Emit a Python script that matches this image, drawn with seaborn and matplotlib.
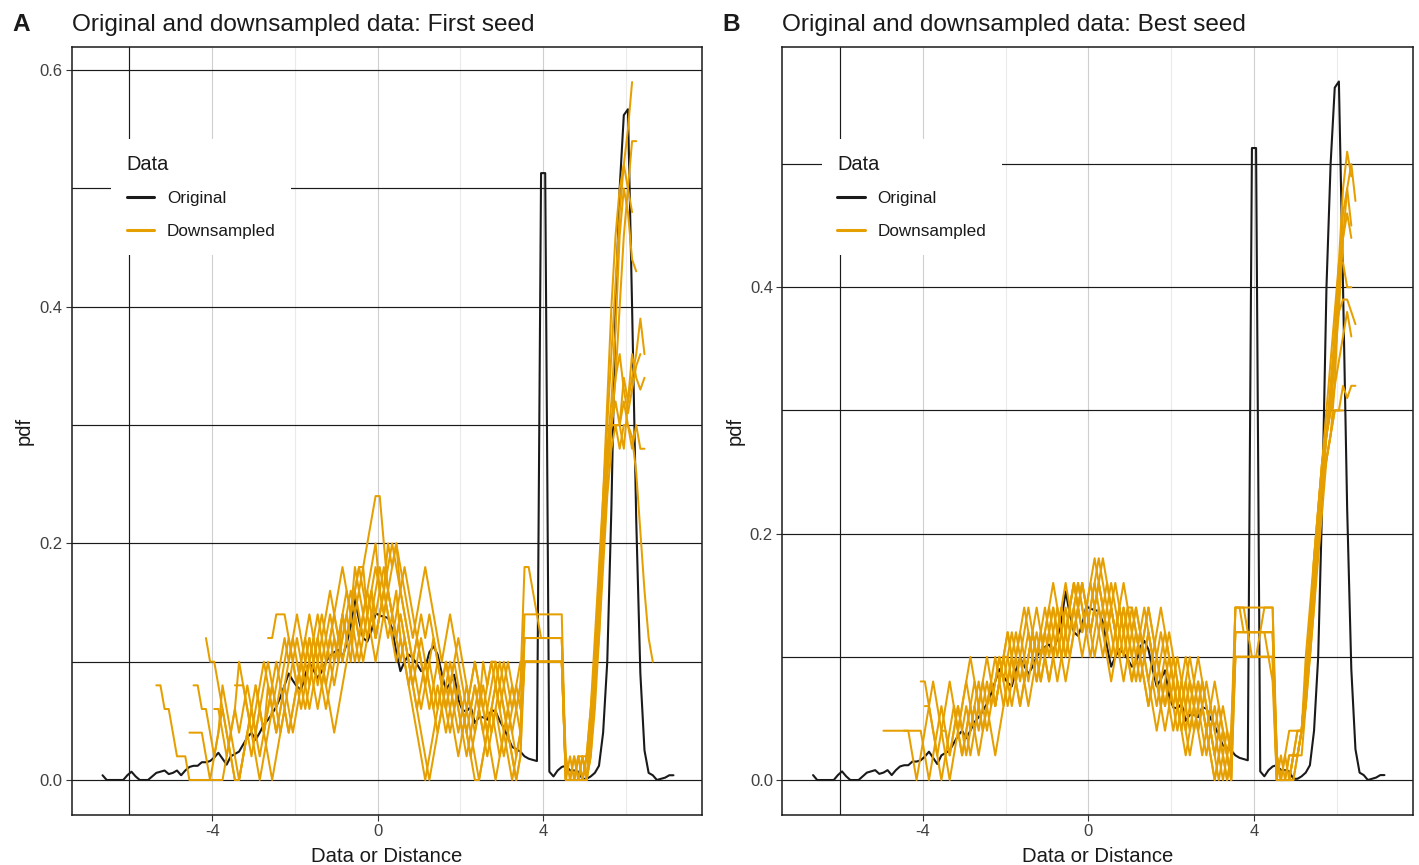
import numpy as np
import pandas as pd
import matplotlib
matplotlib.use("Agg")
import matplotlib.pyplot as plt
import seaborn as sns
from matplotlib.lines import Line2D

N = np.nan
STEP = 0.1

# ---------------- Original density (shared by both panels) ----------------
ORIG_X0 = -6.65
original = [
    0.004, 0, 0, 0, 0, 0, 0.004, 0.007, 0.003, 0,                       # -6.65
    0, 0, 0.003, 0.006, 0.007, 0.008, 0.005, 0.006, 0.008, 0.004,       # -5.65
    0.008, 0.011, 0.012, 0.012, 0.015, 0.015, 0.016, 0.019, 0.023, 0.018,  # -4.65
    0.013, 0.020, 0.022, 0.024, 0.030, 0.036, 0.040, 0.034, 0.040, 0.047,  # -3.65
    0.051, 0.056, 0.062, 0.070, 0.080, 0.090, 0.084, 0.079, 0.076, 0.089,  # -2.65
    0.099, 0.093, 0.086, 0.092, 0.100, 0.105, 0.108, 0.110, 0.104, 0.115,  # -1.65
    0.130, 0.153, 0.135, 0.120, 0.117, 0.126, 0.141, 0.139, 0.138, 0.137,  # -0.65
    0.128, 0.108, 0.092, 0.100, 0.106, 0.103, 0.098, 0.092, 0.095, 0.108,  # 0.35
    0.113, 0.106, 0.090, 0.076, 0.082, 0.089, 0.068, 0.059, 0.058, 0.062,  # 1.35
    0.048, 0.053, 0.053, 0.051, 0.059, 0.058, 0.050, 0.044, 0.036, 0.028,  # 2.35
    0.026, 0.024, 0.020, 0.018, 0.017, 0.016, 0.513, 0.513, 0.007, 0.003,  # 3.35
    0.008, 0.011, 0.012, 0.008, 0.008, 0.007, 0.001, 0.001, 0.003, 0.006,  # 4.35
    0.012, 0.040, 0.100, 0.230, 0.400, 0.500, 0.562, 0.567, 0.400, 0.220,  # 5.35
    0.090, 0.025, 0.006, 0.004, 0, 0.001, 0.002, 0.004, 0.004,             # 6.35
]

# ---------------- Panel A: downsampled, first seed (x starts at -5.35) ----------------
A_X0 = -5.35
a1 = [.08,.08,.06,.06,.04,.02,.02,.02,0,0,
      0,0,0,0,0,0,0,.02,.04,.06,
      .04,.06,.08,.06,.04,.06,.08,.1,.08,.06,
      .08,.1,.12,.1,.08,.06,.08,.1,.12,.1,
      .08,.1,.12,.14,.12,.14,.16,.14,.18,.16,
      .14,.16,.18,.2,.16,.14,.12,.14,.12,.1,
      .12,.1,.08,.1,.12,.1,.08,.06,.08,.06,
      .04,.06,.08,.06,.04,.02,.04,.06,.08,.06,
      .04,.02,0,.02,.04,.06,.04,.02,.04,.1,
      .1,.1,.1,.1,.1,.1,.1,.1,.1,0,
      0,0,0,0,.02,.06,.12,.18,.24,.3,
      .36,.42,.48,.52,.55,.59]
a2 = [N,N,N,N,N,N,N,N,.04,.04,
      .04,.04,.02,0,.02,.04,.08,.06,.04,.02,
      0,.02,.04,.02,.04,.06,.04,.08,.06,.04,
      .06,.08,.06,.04,.06,.08,.1,.12,.1,.12,
      .1,.08,.1,.12,.1,.14,.12,.1,.14,.16,
      .18,.14,.16,.12,.14,.16,.2,.18,.2,.16,
      .14,.12,.1,.12,.1,.08,.06,.08,.1,.08,
      .1,.08,.06,.08,.06,.04,.06,.08,.06,.1,
      .08,.1,.1,.08,.1,.08,.06,.08,.06,.12,
      .12,.12,.12,.12,.12,.12,.12,.12,.12,0,
      0,0,.02,0,0,.04,.1,.16,.22,.28,
      .32,.38,.46,.5,.48,.44,.43]
a3 = [N,N,N,N,N,N,N,N,N,.08,
      .08,.06,.06,.04,.02,.04,.06,.04,.02,0,
      0,.02,.04,.06,.04,.02,.04,.06,.08,.06,
      .04,.06,.08,.1,.12,.1,.08,.06,.08,.1,
      .08,.06,.08,.1,.12,.1,.12,.14,.12,.1,
      .12,.14,.16,.14,.16,.18,.16,.14,.16,.12,
      .1,.08,.1,.12,.14,.12,.14,.12,.1,.08,
      .06,.08,.1,.08,.06,.08,.06,.04,.06,.08,
      .06,.04,.06,.08,.06,.04,.06,.08,.1,.1,
      .1,.1,.1,.1,.1,.1,.1,.1,.1,0,
      .02,0,0,.02,.02,.06,.1,.14,.2,.26,
      .3,.3,.3,.28,.32,.34,.36,.39,.36]
a4 = [N,N,N,N,N,N,N,N,N,N,
      N,N,.12,.1,.1,.08,.06,.04,.02,0,
      0,.02,.04,.06,.08,.06,.04,.02,0,.02,
      .04,.06,.04,.06,.08,.1,.08,.1,.12,.14,
      .12,.1,.12,.14,.16,.18,.16,.14,.16,.18,
      .18,.2,.22,.24,.24,.2,.16,.14,.12,.14,
      .12,.1,.08,.06,.08,.1,.08,.06,.04,.06,
      .08,.06,.04,.02,.04,.06,.04,.02,0,.02,
      .04,.06,.08,.06,.04,.02,0,.02,.04,.14,
      .14,.14,.14,.14,.14,.14,.14,.14,.14,0,
      0,.02,0,0,0,.04,.08,.14,.2,.26,
      .3,.34,.4,.46,.5,.54,.54]
a5 = [N,N,N,N,N,N,N,N,N,N,
      N,N,N,N,N,N,N,N,N,.08,
      .08,.08,.06,.04,.06,.08,.1,.08,.06,.04,
      .06,.08,.1,.12,.1,.08,.1,.12,.1,.08,
      .1,.12,.14,.12,.1,.12,.14,.16,.14,.12,
      .14,.16,.14,.12,.14,.16,.18,.2,.18,.16,
      .14,.12,.1,.08,.06,.08,.1,.08,.06,.08,
      .1,.08,.06,.04,.06,.04,.02,.04,.06,.04,
      .02,.04,.06,.04,.02,.04,.02,0,.02,.12,
      .12,.12,.12,.12,.12,.12,.12,.12,.12,0,
      0,0,0,.02,0,.02,.08,.14,.22,.28,
      .3,.32,.3,.34,.32,.36,.34,.33,.34]
a6 = [N,N,N,N,N,N,N,N,N,N,
      N,N,N,N,N,N,N,N,N,N,
      N,N,N,N,N,N,N,.12,.12,.14,
      .14,.14,.12,.1,.08,.1,.12,.1,.08,.06,
      .08,.1,.12,.1,.12,.14,.12,.14,.16,.14,
      .12,.14,.16,.18,.16,.14,.16,.18,.2,.18,
      .16,.14,.12,.14,.16,.18,.16,.14,.12,.1,
      .12,.14,.12,.1,.08,.06,.08,.1,.08,.06,
      .08,.1,.08,.06,.08,.1,.08,.06,.08,.1,
      .1,.1,.1,.1,.1,.1,.1,.1,.1,.02,
      0,0,.02,0,.02,.04,.08,.12,.18,.24,
      .28,.3,.28,.3,.3,.28,.3,.28,.28]
a7 = [N,N,N,N,N,N,N,N,N,N,
      N,N,N,N,.06,.06,.04,.02,.04,.06,
      .1,.08,.06,.04,.02,0,.02,.04,.06,.08,
      .1,.12,.1,.12,.14,.12,.1,.08,.1,.12,
      .14,.12,.1,.08,.1,.12,.14,.12,.1,.12,
      .14,.12,.14,.16,.18,.16,.14,.12,.1,.12,
      .1,.08,.06,.04,.02,0,.02,.04,.06,.08,
      .06,.08,.1,.12,.1,.08,.06,.08,.06,.04,
      .06,.08,.1,.08,.06,.04,.02,0,.02,.1,
      .1,.1,.1,.1,.1,.1,.1,.1,.1,0,
      0,0,0,0,.02,.04,.1,.16,.22,.27,
      .3,.34,.36,.33,.31,.33,.35,.36]
a8 = [N,N,N,N,N,N,N,N,N,N,
      N,N,N,N,N,N,N,N,N,N,
      N,N,N,N,N,N,N,N,N,N,
      N,N,N,N,.1,.08,.06,.08,.1,.12,
      .1,.08,.06,.04,.06,.08,.1,.12,.14,.12,
      .1,.12,.14,.12,.14,.16,.14,.12,.14,.16,
      .18,.16,.14,.12,.1,.08,.1,.12,.1,.08,
      .06,.04,.06,.08,.06,.04,.02,0,0,.02,
      .04,.06,.04,.02,.04,.06,.08,.06,.04,.1,
      .1,.1,.1,.1,.1,.1,.1,.1,.1,0,
      0,.02,0,0,0,.02,.06,.12,.2,.26,
      .3,.3,.3,.32,.3,.29,.26,.21,.16,.12,.1]
a9 = [N,N,N,N,N,N,N,N,N,N,
      N,N,N,N,N,N,N,N,N,N,
      N,N,N,N,.08,.06,.04,.06,.08,.1,
      .08,.06,.04,.06,.08,.1,.12,.14,.12,.1,
      .12,.14,.16,.14,.12,.1,.12,.14,.16,.18,
      .16,.14,.12,.1,.12,.14,.16,.14,.12,.14,
      .12,.1,.08,.06,.04,.02,0,.02,.04,.06,
      .08,.1,.08,.06,.04,.06,.08,.1,.08,.06,
      .04,.06,.08,.1,.08,.06,.04,.06,.08,.18,
      .18,.16,.14,.12,.12,.12,.12,.12,.12,0,
      0,0,.02,.02,0,.04,.1,.16,.24,.32,
      .4,.46,.5,.52,.5,.48]

# ---------------- Panel B: downsampled, best seed (x starts at -4.95) ----------------
B_X0 = -4.95
b1 = [.04,.04,.04,.04,.04,.04,.04,.04,.04,.04,
      .02,0,.02,.04,.06,.04,.02,.04,.06,.04,
      .06,.04,.06,.08,.06,.04,.06,.08,.1,.08,
      .06,.08,.1,.12,.1,.08,.1,.12,.1,.12,
      .14,.12,.1,.12,.14,.12,.14,.16,.14,.12,
      .14,.16,.18,.16,.14,.12,.1,.12,.14,.12,
      .1,.08,.1,.12,.14,.12,.1,.08,.06,.08,
      .06,.04,.06,.08,.06,.04,.06,.08,.06,.04,
      .02,.04,.02,0,.02,.14,.14,.14,.12,.12,
      .12,.12,.12,.12,.12,.02,0,0,0,.02,
      .04,.04,.08,.12,.18,.22,.26,.28,.3,.36,
      .42,.48,.51,.49]
b2 = [N,N,N,N,N,.04,.04,.02,0,.02,
      .04,.06,.08,.06,.04,.02,0,.02,.04,.02,
      .04,.06,.04,.02,.04,.06,.08,.06,.08,.1,
      .08,.1,.12,.1,.08,.06,.08,.1,.12,.14,
      .12,.1,.08,.1,.12,.14,.16,.14,.12,.14,
      .12,.14,.12,.1,.12,.14,.12,.14,.16,.14,
      .14,.12,.1,.08,.06,.08,.1,.12,.1,.08,
      .06,.08,.06,.04,.02,.04,.06,.08,.06,.04,
      .06,.04,.02,.04,.02,.12,.12,.12,.12,.12,
      .12,.12,.12,.1,.08,0,0,.02,0,.02,
      .02,.04,.06,.12,.16,.2,.24,.26,.28,.32,
      .4,.46,.48,.45]
b3 = [N,N,N,N,N,N,N,N,N,.08,
      .08,.06,.04,.02,0,.02,.04,.06,.04,.02,
      .04,.06,.08,.06,.04,.06,.08,.1,.08,.06,
      .08,.1,.08,.06,.08,.1,.12,.1,.12,.1,
      .12,.14,.12,.1,.12,.14,.16,.14,.16,.14,
      .12,.1,.12,.14,.16,.14,.12,.1,.08,.1,
      .12,.14,.12,.1,.08,.1,.12,.14,.12,.1,
      .08,.06,.04,.06,.08,.06,.04,.06,.08,.06,
      .04,.02,.04,.02,0,.14,.14,.14,.14,.14,
      .14,.14,.14,.14,.14,.02,0,0,0,0,
      .02,.04,.1,.14,.18,.22,.26,.3,.34,.38,
      .42,.42,.4,.4]
b4 = [N,N,N,N,N,N,N,N,N,N,
      .06,.06,.04,.02,.04,.06,.08,.06,.04,.06,
      .08,.06,.04,.06,.08,.06,.04,.02,.04,.06,
      .08,.06,.08,.1,.08,.1,.12,.14,.12,.1,
      .08,.1,.12,.14,.12,.1,.12,.14,.12,.14,
      .16,.14,.16,.14,.12,.14,.12,.1,.12,.14,
      .12,.1,.08,.1,.12,.1,.08,.06,.08,.1,
      .08,.06,.08,.1,.08,.06,.04,.06,.04,.02,
      0,.02,.04,.02,.04,.12,.12,.12,.12,.1,
      .1,.12,.12,.12,.12,0,0,0,.02,.02,
      .02,.04,.08,.12,.16,.2,.24,.28,.32,.36,
      .38,.39,.39,.38,.37]
b5 = [N,N,N,N,N,N,N,N,N,N,
      N,N,N,N,.04,.04,.02,.04,.06,.04,
      .02,.04,.06,.04,.06,.08,.06,.08,.1,.08,
      .1,.12,.1,.08,.1,.12,.1,.08,.1,.12,
      .1,.12,.14,.12,.1,.12,.14,.12,.1,.12,
      .14,.16,.14,.12,.14,.16,.14,.12,.1,.12,
      .1,.12,.1,.08,.06,.08,.06,.08,.1,.12,
      .1,.08,.06,.04,.06,.08,.1,.08,.06,.04,
      .02,0,.02,0,.02,.1,.1,.1,.1,.1,
      .1,.1,.1,.1,.1,0,.02,0,0,.02,
      .04,.04,.08,.1,.14,.18,.22,.26,.28,.3,
      .3,.32,.31,.32,.32]
b6 = [N,N,N,N,N,N,N,N,N,N,
      N,N,N,N,N,N,N,.06,.04,.06,
      .08,.1,.08,.06,.04,.06,.08,.06,.08,.1,
      .12,.1,.08,.1,.12,.14,.12,.1,.12,.1,
      .08,.1,.12,.14,.16,.14,.12,.14,.16,.14,
      .12,.14,.16,.18,.16,.14,.12,.14,.12,.1,
      .08,.1,.12,.1,.08,.06,.04,.06,.08,.06,
      .04,.06,.08,.06,.08,.06,.04,.02,.04,.06,
      .04,.06,.04,.02,0,.1,.1,.1,.1,.1,
      .1,.1,.1,.1,.1,.02,0,0,0,0,
      .02,.02,.06,.1,.16,.2,.24,.26,.28,.3,
      .3,.3]
b7 = [N,N,N,N,N,N,N,N,N,N,
      N,N,N,N,N,N,N,N,N,N,
      .04,.02,.04,.06,.08,.1,.08,.06,.08,.1,
      .12,.1,.08,.06,.08,.1,.12,.1,.08,.1,
      .12,.1,.12,.14,.12,.14,.16,.14,.12,.14,
      .16,.18,.16,.14,.12,.14,.16,.14,.12,.14,
      .12,.14,.12,.1,.12,.1,.08,.1,.12,.1,
      .08,.06,.04,.02,.04,.06,.08,.06,.04,.06,
      .08,.06,.04,.02,.04,.14,.14,.12,.12,.12,
      .12,.12,.14,.14,.14,0,0,.02,.04,.04,
      .04,.04,.06,.1,.14,.2,.24,.28,.3,.34,
      .38,.44,.48,.5,.47]
b8 = [N,N,N,N,N,N,N,N,N,N,
      N,N,N,N,N,N,N,N,N,N,
      N,N,N,N,N,N,N,.06,.08,.1,
      .1,.08,.1,.12,.14,.12,.1,.08,.1,.12,
      .14,.16,.14,.12,.1,.12,.14,.16,.14,.12,
      .1,.12,.14,.12,.1,.08,.1,.12,.14,.12,
      .14,.12,.1,.12,.14,.12,.1,.08,.06,.08,
      .1,.08,.06,.08,.1,.08,.06,.04,.02,.04,
      .02,.04,.06,.04,.02,.12,.12,.12,.12,.12,
      .12,.12,.12,.12,.12,.02,0,0,.02,.02,
      .02,.04,.08,.12,.18,.22,.26,.28,.3,.32,
      .34,.36,.38,.36]
b9 = [N,N,N,N,N,N,N,N,N,N,
      N,N,N,N,N,N,N,N,N,N,
      N,N,N,N,N,N,N,N,N,N,
      N,N,N,N,.08,.1,.12,.1,.08,.1,
      .12,.14,.12,.1,.08,.1,.12,.14,.16,.14,
      .12,.14,.16,.14,.12,.1,.12,.14,.12,.1,
      .08,.1,.12,.14,.12,.1,.08,.06,.04,.06,
      .08,.1,.08,.06,.04,.06,.08,.06,.04,.02,
      0,.02,0,.02,0,.1,.1,.1,.1,.1,
      .1,.1,.1,.1,.1,0,0,0,0,.02,
      .02,.04,.08,.12,.16,.2,.24,.28,.32,.36,
      .4,.44,.46,.44]

panel_titles = ["Original and downsampled data: First seed",
                "Original and downsampled data: Best seed"]
panel_tags = ["A", "B"]
legend_labels = ["Original", "Downsampled"]
x_label = "Data or Distance"
y_label = "pdf"

ORANGE = "#E69F00"
BLACK = "#1a1a1a"


def to_frame(vals, x0, name):
    v = np.asarray(vals, dtype=float)
    x = x0 + STEP * np.arange(len(v))
    d = pd.DataFrame({"x": np.round(x, 3), "pdf": v, "line": name})
    return d.dropna()


orig_df = to_frame(original, ORIG_X0, "orig")
A_df = pd.concat([to_frame(v, A_X0, f"a{i}") for i, v in
                  enumerate([a1, a2, a3, a4, a5, a6, a7, a8, a9])])
B_df = pd.concat([to_frame(v, B_X0, f"b{i}") for i, v in
                  enumerate([b1, b2, b3, b4, b5, b6, b7, b8, b9])])

sns.set_style("white")
plt.rcParams["font.family"] = ["Liberation Sans", "DejaVu Sans"]
plt.rcParams["axes.unicode_minus"] = False

W, H = 1419, 865
fig = plt.figure(figsize=(W / 100, H / 100), dpi=100)


def px_axes(l, t, r, b):
    return fig.add_axes([l / W, 1 - b / H, (r - l) / W, (b - t) / H])


axA = px_axes(71.5, 47, 702, 815)
axB = px_axes(782, 47, 1413, 815)

ylims = [(-0.0296, 0.6196), (-0.0284, 0.5950)]
yticks = [[0, 0.2, 0.4, 0.6], [0, 0.2, 0.4]]
for k, (ax, ddf) in enumerate([(axA, A_df), (axB, B_df)]):
    sns.lineplot(data=orig_df, x="x", y="pdf", color=BLACK, lw=1.5,
                 estimator=None, sort=False, ax=ax, legend=False, zorder=3)
    sns.lineplot(data=ddf, x="x", y="pdf", units="line", color=ORANGE, lw=1.45,
                 estimator=None, sort=False, ax=ax, legend=False, zorder=4)
    ax.set_xlim(-7.40, 7.84)
    ax.set_ylim(*ylims[k])
    ax.set_xticks([-4, 0, 4])
    ax.set_xticklabels(["-4", "0", "4"])
    ax.set_xticks([-2, 2, 6], minor=True)
    ax.set_yticks(yticks[k])
    ax.set_yticklabels([f"{t:.1f}" for t in yticks[k]])
    ax.set_yticks([0.1, 0.3, 0.5], minor=True)
    ax.set_axisbelow(True)
    ax.grid(which="major", axis="x", color="#cfcfcf", lw=0.8)
    ax.grid(which="minor", axis="x", color="#ebebeb", lw=0.8)
    ax.grid(which="both", axis="y", color=BLACK, lw=0.85)
    ax.axvline(-6, color=BLACK, lw=0.85, zorder=0.5)
    ax.tick_params(which="major", length=4, width=0.8, color="#333333",
                   labelsize=12, labelcolor="#404040", pad=2.5,
                   bottom=True, left=True)
    ax.tick_params(which="minor", length=0)
    for s in ax.spines.values():
        s.set_color(BLACK)
        s.set_linewidth(1.1)
    ax.set_xlabel("")
    ax.set_ylabel("")

    handles = [Line2D([], [], color=BLACK, lw=2.2),
               Line2D([], [], color=ORANGE, lw=2.2)]
    leg = ax.legend(handles, legend_labels, title="Data", loc="upper left",
                    bbox_to_anchor=(0.0634, 0.880), borderaxespad=0,
                    frameon=True, fancybox=False, facecolor="white",
                    edgecolor="none", framealpha=1, fontsize=12.3,
                    title_fontsize=14.4, handlelength=1.6, handletextpad=0.75,
                    labelspacing=1.05, borderpad=0.9, alignment="left")
    leg.set_zorder(10)
    for t in leg.get_texts():
        t.set_color("#1a1a1a")
    leg.get_title().set_color("#1a1a1a")

# titles and labels
for k, (x_tag, x_tit, x_mid) in enumerate([(12, 71.5, 386.5), (722, 782, 1097.5)]):
    fig.text(x_tag / W, 1 - 31 / H, panel_tags[k], fontsize=17.6,
             fontweight="bold", ha="left", va="baseline", color="#1a1a1a")
    fig.text(x_tit / W, 1 - 31 / H, panel_titles[k], fontsize=17.6,
             ha="left", va="baseline", color="#1a1a1a")
    fig.text(x_mid / W, 1 - 862 / H, x_label, fontsize=14.6,
             ha="center", va="baseline", color="#1a1a1a")
    fig.text((x_tit - 47) / W, 1 - 431 / H, y_label, fontsize=14.6,
             rotation=90, ha="center", va="center", color="#1a1a1a")

fig.savefig("out.png", dpi=100, facecolor="white")
